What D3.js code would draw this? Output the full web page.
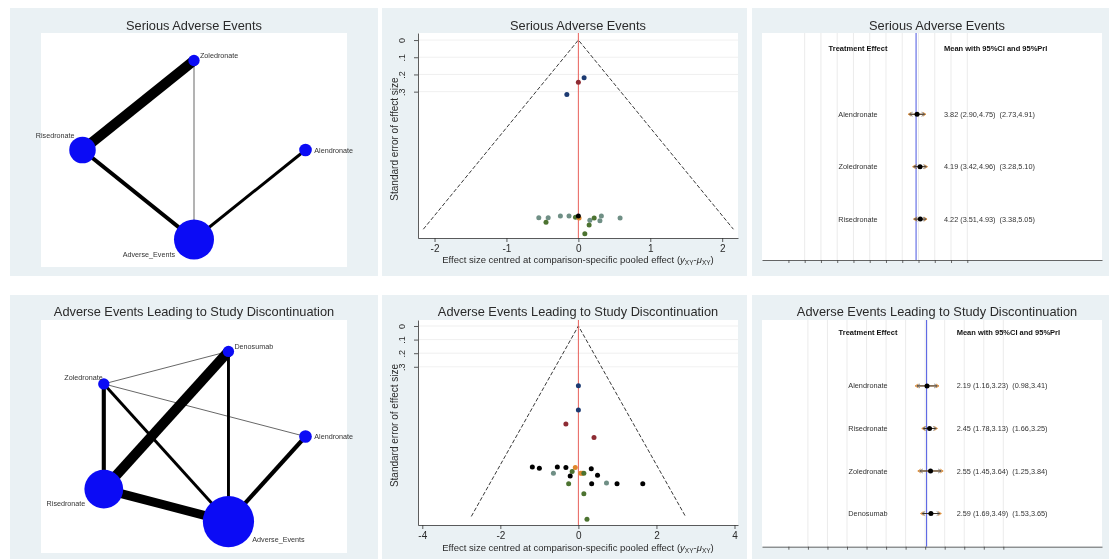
<!DOCTYPE html>
<html><head><meta charset="utf-8">
<script src="https://cdn.jsdelivr.net/npm/d3@7"></script>
<style>
html,body{margin:0;padding:0;background:#fff;}
svg{display:block;font-family:"Liberation Sans",Arial,Helvetica,sans-serif;will-change:transform;}
text{white-space:pre;}
</style></head><body>
<svg id="fig" width="1109" height="559"></svg>
<script>
// ================= Data =================
const titleTop = "Serious Adverse Events";
const titleBottom = "Adverse Events Leading to Study Discontinuation";

// Network maps: treatments placed counter-clockwise on an ellipse, starting at 3 o'clock
const net1Treatments = ["Alendronate", "Zoledronate", "Risedronate", "Adverse_Events"];
const net1NodeWeight = [5, 4, 22, 50];
const net1EdgeFrom = ["Zoledronate", "Risedronate", "Alendronate", "Zoledronate"];
const net1EdgeTo = ["Risedronate", "Adverse_Events", "Adverse_Events", "Adverse_Events"];
const net1EdgeStudies = [9, 4, 3, 1];

const net2Treatments = ["Alendronate", "Denosumab", "Zoledronate", "Risedronate", "Adverse_Events"];
const net2NodeWeight = [5, 4, 4, 47, 82];
const net2EdgeFrom = ["Denosumab", "Risedronate", "Zoledronate", "Zoledronate", "Denosumab", "Alendronate", "Zoledronate", "Zoledronate"];
const net2EdgeTo = ["Risedronate", "Adverse_Events", "Risedronate", "Adverse_Events", "Adverse_Events", "Adverse_Events", "Denosumab", "Alendronate"];
const net2EdgeStudies = [9, 8, 4, 3, 3, 4, 1, 1];

// Comparison-adjusted funnel plots (comparison index -> colour)
const funnel1Effect = [0.08, 0.00, -0.16, -0.55, -0.42, -0.45, -0.25, -0.13, -0.04, 0.01, 0.00, 0.16, 0.22, 0.32, 0.30, 0.15, 0.09, 0.58];
const funnel1SE = [0.219, 0.246, 0.316, 1.033, 1.033, 1.060, 1.023, 1.023, 1.030, 1.035, 1.023, 1.048, 1.034, 1.023, 1.050, 1.075, 1.126, 1.035];
const funnel1Comparison = [0, 1, 0, 4, 4, 2, 4, 4, 2, 3, 5, 4, 2, 4, 4, 2, 2, 4];
const funnel1MaxSE = 1.1;
const funnel1XTicks = [-2, -1, 0, 1, 2];
const funnel1XTickLabels = ["-2", "-1", "0", "1", "2"];

const funnel2Effect = [0.00, 0.00, -0.32, 0.40, -1.18, -1.00, -0.54, -0.32, -0.08, 0.33, -0.16, -0.64, -0.21, 0.06, 0.10, 0.14, 0.49, -0.25, 0.34, 0.72, 0.99, 1.65, 0.14, 0.22];
const funnel2SE = [0.440, 0.618, 0.720, 0.820, 1.036, 1.046, 1.036, 1.040, 1.040, 1.050, 1.070, 1.083, 1.103, 1.083, 1.083, 1.083, 1.097, 1.160, 1.160, 1.155, 1.160, 1.160, 1.233, 1.420];
const funnel2Comparison = [0, 0, 1, 1, 5, 5, 5, 5, 3, 5, 2, 4, 5, 3, 3, 2, 5, 2, 5, 4, 5, 5, 2, 2];
const funnel2MaxSE = 1.4;
const funnel2XTicks = [-4, -2, 0, 2, 4];
const funnel2XTickLabels = ["-4", "-2", "0", "2", "4"];

const funnelYTicks = [0, 0.1, 0.2, 0.3];
const funnelYTickLabels = ["0", ".1", ".2", ".3"];
const comparisonColors = ["#1c3a72", "#8e2c34", "#4c7330", "#e0872c", "#6f8f85", "#000000"];

// Interval plots: mean with 95% CI and 95% PrI
const forest1Labels = ["Alendronate", "Zoledronate", "Risedronate"];
const forest1Mean = [3.82, 4.19, 4.22];
const forest1CILow = [2.90, 3.42, 3.51];
const forest1CIHigh = [4.75, 4.96, 4.93];
const forest1PrLow = [2.73, 3.28, 3.38];
const forest1PrHigh = [4.91, 5.10, 5.05];
const forest1Ref = 3.7;

const forest2Labels = ["Alendronate", "Risedronate", "Zoledronate", "Denosumab"];
const forest2Mean = [2.19, 2.45, 2.55, 2.59];
const forest2CILow = [1.16, 1.78, 1.45, 1.69];
const forest2CIHigh = [3.23, 3.13, 3.64, 3.49];
const forest2PrLow = [0.98, 1.66, 1.25, 1.53];
const forest2PrHigh = [3.41, 3.25, 3.84, 3.65];
const forest2Ref = 2.15;

const forestTicks = d3.range(-12, 11, 2);
const forestHeadLeft = "Treatment Effect";
const forestHeadRight = "Mean with 95%CI and 95%PrI";

// ================= Layout =================
const BG = "#eaf1f4";
const rows = [{ top: 8, bottom: 276, title: 29.5 }, { top: 295, bottom: 562, title: 316 }];
const cols = [{ left: 10, right: 378 }, { left: 382, right: 747 }, { left: 752, right: 1112 }];
const netArea = [{ x0: 41, x1: 347, y0: 33, y1: 267 }, { x0: 41, x1: 347, y0: 320, y1: 553 }];
const funArea = [{ x0: 418, x1: 738, y0: 33, y1: 238 }, { x0: 418, x1: 738, y0: 320, y1: 525 }];
const forArea = [{ x0: 762, x1: 1102, y0: 33, y1: 260 }, { x0: 762, x1: 1102, y0: 320, y1: 546.7 }];
const titleX = [194, 578, 937];

const svg = d3.select("#fig");
const TXT = "#2a2a2a";

rows.forEach(r => cols.forEach(c => {
  svg.append("rect").attr("x", c.left).attr("y", r.top)
    .attr("width", c.right - c.left).attr("height", r.bottom - r.top).attr("fill", BG);
}));

function title(text, x, y) {
  svg.append("text").attr("x", x).attr("y", y).attr("text-anchor", "middle")
    .attr("font-size", 12.8).attr("fill", TXT).text(text);
}

// ---------- network map ----------
const nodeR = d3.scaleSqrt().domain([0, 50]).range([0, 20]);
const edgeW = d3.scaleLinear().domain([1, 9]).range([0.6, 10]);

function drawNetwork(area, treatments, weights, from, to, studies) {
  const g = svg.append("g");
  g.append("rect").attr("x", area.x0).attr("y", area.y0)
    .attr("width", area.x1 - area.x0).attr("height", area.y1 - area.y0).attr("fill", "#fff");
  const cx = (area.x0 + area.x1) / 2, cy = (area.y0 + area.y1) / 2;
  const sx = d3.scaleLinear().domain([-1, 1]).range([cx - 111.5, cx + 111.5]);
  const sy = d3.scaleLinear().domain([-1, 1]).range([cy + 89.5, cy - 89.5]);
  const n = treatments.length;
  const nodes = treatments.map((t, i) => {
    const a = 2 * Math.PI * i / n;
    return { name: t, c: Math.cos(a), s: Math.sin(a), x: sx(Math.cos(a)), y: sy(Math.sin(a)), r: nodeR(weights[i]) };
  });
  const byName = new Map(nodes.map(d => [d.name, d]));
  const edges = from.map((f, i) => ({ a: byName.get(f), b: byName.get(to[i]), w: studies[i] }))
    .sort((p, q) => p.w - q.w);
  g.selectAll("line.edge").data(edges).join("line")
    .attr("x1", d => d.a.x).attr("y1", d => d.a.y).attr("x2", d => d.b.x).attr("y2", d => d.b.y)
    .attr("stroke", "#000").attr("stroke-width", d => edgeW(d.w));
  g.selectAll("circle.node").data(nodes).join("circle")
    .attr("cx", d => d.x).attr("cy", d => d.y).attr("r", d => d.r).attr("fill", "#0b0bf5");
  // labels pushed outward from the ellipse
  nodes.forEach(d => {
    let x, y, anchor;
    if (Math.abs(d.s) < 1e-6 && d.c > 0) { x = d.x + d.r + 2.5; y = d.y; anchor = "start"; }
    else if (d.s > -1e-6) {
      if (d.c >= 0) { x = d.x + 0.7 * d.r + 2; y = d.y - 0.7 * d.r - 1; anchor = "start"; }
      else { x = d.x + 4 - 0.9 * d.r; y = d.y - d.r - 1; anchor = "end"; }
    } else {
      if (d.c < 0) { x = d.x - 0.95 * d.r; y = d.y + 0.76 * d.r; anchor = "end"; }
      else { x = d.x + 0.93 * d.r; y = d.y + 0.7 * d.r; anchor = "start"; }
    }
    g.append("text").attr("x", x).attr("y", y).attr("dy", "0.35em").attr("text-anchor", anchor)
      .attr("font-size", 7.2).attr("fill", "#333").text(d.name);
  });
}

// ---------- funnel plot ----------
function drawFunnel(area, effect, se, comp, maxSE, xDomain, yDomain, xTicks, xTickLabels, xLabY, xTitleY) {
  const g = svg.append("g");
  g.append("rect").attr("x", area.x0).attr("y", area.y0)
    .attr("width", area.x1 - area.x0).attr("height", area.y1 - area.y0).attr("fill", "#fff");
  const x = d3.scaleLinear().domain(xDomain).range([area.x0, area.x1]);
  const y = d3.scaleLinear().domain(yDomain).range([area.y0, area.y1]);
  g.selectAll("line.grid").data(funnelYTicks).join("line")
    .attr("x1", area.x0).attr("x2", area.x1).attr("y1", d => y(d)).attr("y2", d => y(d))
    .attr("stroke", "#ececec").attr("stroke-width", 0.8);
  // pseudo 95% confidence region
  g.append("path")
    .attr("d", d3.line()([[x(-1.96 * maxSE), y(maxSE)], [x(0), y(0)], [x(1.96 * maxSE), y(maxSE)]]))
    .attr("fill", "none").attr("stroke", "#222").attr("stroke-width", 0.9).attr("stroke-dasharray", "4,2");
  g.append("line").attr("x1", x(0)).attr("x2", x(0)).attr("y1", area.y0).attr("y2", area.y1)
    .attr("stroke", "#e8605a").attr("stroke-width", 1);
  const pts = effect.map((e, i) => ({ e, s: se[i], c: comp[i] }));
  g.selectAll("circle.pt").data(pts).join("circle")
    .attr("cx", d => x(d.e)).attr("cy", d => y(d.s)).attr("r", 2.5)
    .attr("fill", d => comparisonColors[d.c]);
  // axes
  const ax = g.append("g").attr("transform", `translate(0,${area.y1})`)
    .call(d3.axisBottom(x).tickValues(xTicks).tickSize(4).tickSizeOuter(0).tickFormat((d, i) => xTickLabels[i]));
  ax.selectAll("text").attr("y", xLabY - area.y1).attr("dy", null).attr("font-size", 10)
    .attr("font-family", null).attr("fill", TXT);
  const ay = g.append("g").attr("transform", `translate(${area.x0},0)`)
    .call(d3.axisLeft(y).tickValues(funnelYTicks).tickSize(4).tickSizeOuter(0).tickFormat((d, i) => funnelYTickLabels[i]));
  ay.selectAll("text").attr("x", null).attr("dy", null).attr("text-anchor", "middle")
    .attr("transform", "translate(-13.5,0) rotate(-90)").attr("font-size", 9)
    .attr("font-family", null).attr("fill", TXT);
  [ax, ay].forEach(a => {
    a.select(".domain").attr("stroke", "#333").attr("stroke-width", 0.8);
    a.selectAll(".tick line").attr("stroke", "#333").attr("stroke-width", 0.8);
  });
  // axis titles
  const midY = (y(0) + area.y1) / 2;
  g.append("text").attr("transform", `translate(${area.x0 - 20},${midY}) rotate(-90)`)
    .attr("text-anchor", "middle").attr("font-size", 10).attr("fill", TXT)
    .text("Standard error of effect size");
  const t = g.append("text").attr("x", (area.x0 + area.x1) / 2).attr("y", xTitleY)
    .attr("text-anchor", "middle").attr("font-size", 9.5).attr("fill", TXT);
  t.append("tspan").text("Effect size centred at comparison-specific pooled effect (");
  t.append("tspan").attr("font-style", "italic").text("y");
  t.append("tspan").attr("font-size", 6.5).attr("dy", 2).text("XY");
  t.append("tspan").attr("dy", -2).text("-");
  t.append("tspan").attr("font-style", "italic").text("μ");
  t.append("tspan").attr("font-size", 6.5).attr("dy", 2).text("XY");
  t.append("tspan").attr("dy", -2).text(")");
}

// ---------- interval plot ----------
function drawForest(area, labels, mean, ciL, ciH, prL, prH, ref, xDomain, labelX, valueX) {
  const g = svg.append("g");
  g.append("rect").attr("x", area.x0).attr("y", area.y0)
    .attr("width", area.x1 - area.x0).attr("height", area.y1 - area.y0).attr("fill", "#fff");
  const n = labels.length;
  const x = d3.scaleLinear().domain(xDomain).range([area.x0, area.x1]);
  const y = d3.scaleLinear().domain([-1.55, n - 1 + 0.78]).range([area.y0, area.y1]);
  g.selectAll("line.grid").data(forestTicks.slice(1)).join("line")
    .attr("x1", d => x(d)).attr("x2", d => x(d)).attr("y1", area.y0).attr("y2", area.y1)
    .attr("stroke", "#e6e6e6").attr("stroke-width", 0.8);
  g.append("line").attr("x1", x(ref)).attr("x2", x(ref)).attr("y1", area.y0).attr("y2", area.y1)
    .attr("stroke", "#4a55e0").attr("stroke-width", 1);
  const ax = g.append("g").attr("transform", `translate(0,${area.y1})`)
    .call(d3.axisBottom(x).tickValues(forestTicks).tickSize(3).tickSizeOuter(0).tickFormat(""));
  ax.select(".domain").attr("stroke", "#555").attr("stroke-width", 0.9);
  ax.selectAll(".tick line").attr("stroke", "#444").attr("stroke-width", 0.8);

  g.append("text").attr("x", labelX).attr("y", y(-1.25)).attr("dy", "0.35em").attr("text-anchor", "middle")
    .attr("font-size", 7.5).attr("font-weight", "bold").attr("fill", "#111").text(forestHeadLeft);
  g.append("text").attr("x", valueX).attr("y", y(-1.25)).attr("dy", "0.35em")
    .attr("font-size", 7.5).attr("font-weight", "bold").attr("fill", "#111").text(forestHeadRight);

  const fmt = d3.format(".2f");
  const rowsData = labels.map((l, i) => ({ l, i, m: mean[i], cl: ciL[i], ch: ciH[i], pl: prL[i], ph: prH[i] }));
  const arrow = (x0, x1, yy) => `M${x0 + 3},${yy - 2}L${x0},${yy}L${x0 + 3},${yy + 2}M${x1 - 3},${yy - 2}L${x1},${yy}L${x1 - 3},${yy + 2}`;
  rowsData.forEach(d => {
    const yy = y(d.i);
    g.append("text").attr("x", labelX).attr("y", yy).attr("dy", "0.35em").attr("text-anchor", "middle")
      .attr("font-size", 7.3).attr("fill", "#333").text(d.l);
    g.append("line").attr("x1", x(d.pl)).attr("x2", x(d.ph)).attr("y1", yy).attr("y2", yy)
      .attr("stroke", "#dd8f3c").attr("stroke-width", 1);
    g.append("path").attr("d", arrow(x(d.pl), x(d.ph), yy)).attr("fill", "none")
      .attr("stroke", "#dd8f3c").attr("stroke-width", 0.9);
    g.append("line").attr("x1", x(d.cl)).attr("x2", x(d.ch)).attr("y1", yy).attr("y2", yy)
      .attr("stroke", "#222").attr("stroke-width", 0.9);
    g.append("path").attr("d", arrow(x(d.cl), x(d.ch), yy)).attr("fill", "none")
      .attr("stroke", "#555").attr("stroke-width", 0.7);
    g.append("circle").attr("cx", x(d.m)).attr("cy", yy).attr("r", 2.5).attr("fill", "#000");
    g.append("text").attr("x", valueX).attr("y", yy).attr("dy", "0.35em")
      .attr("font-size", 7.3).attr("fill", "#333")
      .text(`${fmt(d.m)} (${fmt(d.cl)},${fmt(d.ch)})  (${fmt(d.pl)},${fmt(d.ph)})`);
  });
}

// ================= Draw =================
title(titleTop, titleX[0], rows[0].title);
title(titleTop, titleX[1], rows[0].title);
title(titleTop, titleX[2], rows[0].title);
title(titleBottom, titleX[0], rows[1].title);
title(titleBottom, titleX[1], rows[1].title);
title(titleBottom, titleX[2], rows[1].title);

drawNetwork(netArea[0], net1Treatments, net1NodeWeight, net1EdgeFrom, net1EdgeTo, net1EdgeStudies);
drawNetwork(netArea[1], net2Treatments, net2NodeWeight, net2EdgeFrom, net2EdgeTo, net2EdgeStudies);

drawFunnel(funArea[0], funnel1Effect, funnel1SE, funnel1Comparison, funnel1MaxSE,
  [-2.23, 2.22], [-0.041, 1.151], funnel1XTicks, funnel1XTickLabels, 251.7, 263);
drawFunnel(funArea[1], funnel2Effect, funnel2SE, funnel2Comparison, funnel2MaxSE,
  [-4.11, 4.09], [-0.044, 1.463], funnel2XTicks, funnel2XTickLabels, 539.3, 551);

drawForest(forArea[0], forest1Labels, forest1Mean, forest1CILow, forest1CIHigh, forest1PrLow, forest1PrHigh,
  forest1Ref, [-15.25, 26.57], 858, 944);
drawForest(forArea[1], forest2Labels, forest2Mean, forest2CILow, forest2CIHigh, forest2PrLow, forest2PrHigh,
  forest2Ref, [-14.7, 20.1], 868, 956.7);
</script>
</body></html>
